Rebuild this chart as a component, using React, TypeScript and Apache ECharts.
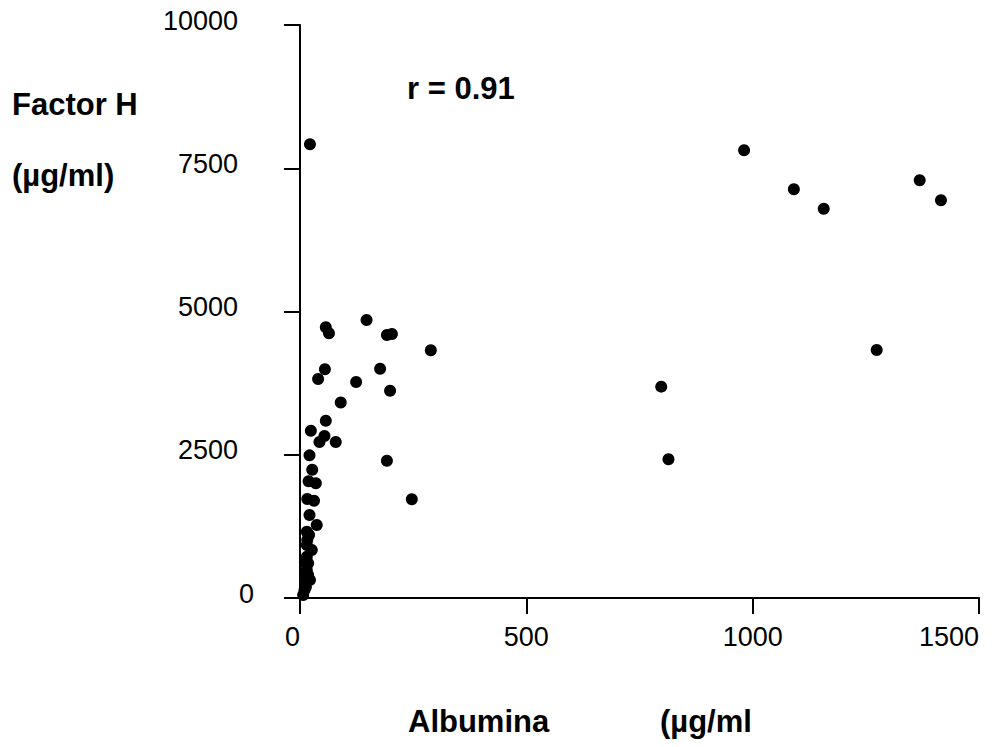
import React, { useEffect, useRef } from "react";
import * as echarts from "echarts";

const albumin: number[] = [
  981, 1091, 1157, 1369, 1416, 1274, 798, 814,
  147, 57, 64, 192, 203, 289, 55, 40, 177, 124, 199, 90, 57, 24, 54, 43, 79, 21, 192, 27, 19, 35, 16, 31, 21, 37, 247, 22,
  15, 20, 16, 15, 26, 15, 11, 18, 15, 15, 18, 11, 22, 11, 13, 10, 7,
];
const factorH: number[] = [
  7813, 7133, 6794, 7290, 6941, 4328, 3688, 2421,
  4852, 4724, 4620, 4590, 4607, 4323, 3991, 3822, 4002, 3770, 3618, 3412, 3094, 2920, 2827, 2723, 2723, 2490, 2396, 2239, 2037, 2002, 1728, 1698, 1449, 1274, 1723, 7918,
  1157, 1100, 1012, 925, 838, 721, 663, 606, 576, 489, 400, 372, 314, 257, 192, 140, 52,
];
const xTicks = { min: 0, max: 1500, interval: 500 };
const yTicks = { min: 0, max: 10000, interval: 2500 };
const yTitle = ["Factor H", "(µg/ml)"];
const xTitle = ["Albumina", "(µg/ml"];
const corrLabel = "r = 0.91";

export default function App() {
  const ref = useRef<HTMLDivElement>(null);
  useEffect(() => {
    if (!ref.current) return;
    const chart = echarts.init(ref.current, null, { renderer: "svg" });
    const font = "'Liberation Sans', Arial, sans-serif";
    const axisCommon = {
      axisLine: { show: true, lineStyle: { color: "#000", width: 2 } },
      axisTick: { show: true, inside: false, length: 16, lineStyle: { color: "#000", width: 2 } },
      splitLine: { show: false },
    };
    const yLabelBase = {
      fontSize: 27,
      color: "#000",
      fontFamily: font,
      verticalAlign: "bottom",
      lineHeight: 9,
    };
    chart.setOption({
      animation: false,
      backgroundColor: "#fff",
      grid: { left: 300, right: 19, top: 25, bottom: 149, containLabel: false },
      xAxis: {
        type: "value",
        ...xTicks,
        ...axisCommon,
        axisLabel: {
          fontSize: 27,
          color: "#000",
          fontFamily: font,
          margin: 25,
          alignMinLabel: "right",
          alignMaxLabel: "right",
          formatter: (v: number) => String(v),
        },
      },
      yAxis: [
        {
          type: "value",
          ...yTicks,
          ...axisCommon,
          axisLabel: {
            ...yLabelBase,
            margin: 62,
            formatter: (v: number) => (v === 0 ? "" : String(v)),
          },
        },
        {
          type: "value",
          position: "left",
          ...yTicks,
          axisLine: { show: false },
          axisTick: { show: false },
          splitLine: { show: false },
          axisLabel: {
            ...yLabelBase,
            margin: 46,
            formatter: (v: number) => (v === 0 ? "0" : ""),
          },
        },
      ],
      series: [
        {
          type: "scatter",
          symbol: "circle",
          symbolSize: 12,
          yAxisIndex: 0,
          itemStyle: { color: "#000", opacity: 1 },
          data: albumin.map((a, i) => [a, factorH[i]]),
        },
      ],
      graphic: [
        { type: "text", left: 12, top: 89, style: { text: yTitle[0], font: `bold 31px ${font}`, fill: "#000" } },
        { type: "text", left: 12, top: 160, style: { text: yTitle[1], font: `bold 31px ${font}`, fill: "#000" } },
        { type: "text", left: 407, top: 73, style: { text: corrLabel, font: `bold 31px ${font}`, fill: "#000" } },
        { type: "text", left: 408, top: 706, style: { text: xTitle[0], font: `bold 31px ${font}`, fill: "#000" } },
        { type: "text", left: 660, top: 706, style: { text: xTitle[1], font: `bold 31px ${font}`, fill: "#000" } },
      ],
    });
    return () => chart.dispose();
  }, []);
  return (
    <div
      ref={ref}
      style={{ position: "fixed", left: 0, top: 0, width: 998, height: 747, background: "#fff" }}
    />
  );
}
